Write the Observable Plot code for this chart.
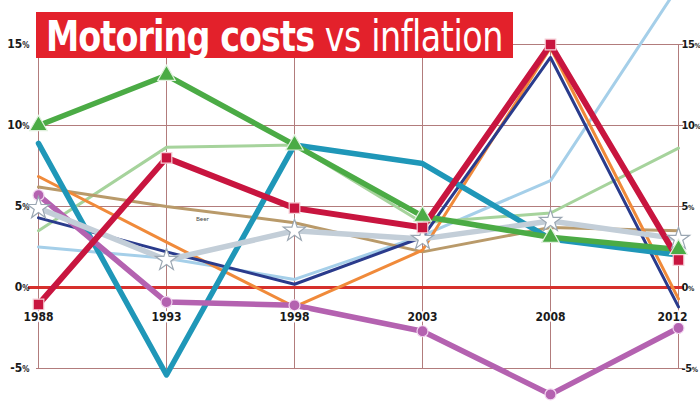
<!DOCTYPE html>
<html><head><meta charset="utf-8">
<script src="https://cdn.jsdelivr.net/npm/d3@7"></script>
<script src="https://cdn.jsdelivr.net/npm/@observablehq/plot@0.6"></script>
<style>
body{margin:0;background:#fff;}
#wrap{position:relative;width:700px;height:420px;overflow:hidden;background:#fff;}
#title{position:absolute;left:36px;top:12px;z-index:2;display:block;pointer-events:none;}
#chart{position:absolute;left:0;top:0;}
</style></head>
<body>
<div id="wrap">
  <div id="chart"></div>
  <svg id="title" width="664" height="46" viewBox="0 0 664 46">
    <rect x="0" y="0" width="477" height="46" fill="#e3212b"></rect>
    <g id="tg" transform="translate(10,38.5)" fill="#fff" font-family="'DejaVu Sans Condensed','DejaVu Sans',sans-serif" font-size="42">
      <text id="t1" x="0" y="0" font-weight="bold" letter-spacing="-1">Motoring costs</text>
      <text id="t2" x="0" y="0" letter-spacing="-0.5">vs inflation</text>
    </g>
  </svg>
</div>
<script>
const years = ["1988","1993","1998","2003","2008","2012"];
const yTicks = [-5, 0, 5, 10, 15];

const lightBlue  = [2.5, 1.8, 0.5, 3.2, 6.6, 18.6];
const lightGreen = [3.5, 8.65, 8.8, 4.0, 4.6, 8.6];
const tanSeries  = [6.2, 5.0, 4.0, 2.2, 3.7, 3.5];
const orange     = [6.85, 2.8, -1.2, 2.3, 14.8, -0.7];
const navy       = [4.3, 2.2, 0.2, 3.1, 14.2, -1.2];
const teal       = [8.9, -5.4, 8.8, 7.65, 3.0, 2.0];
const purple     = [5.7, -0.9, -1.1, -2.7, -6.6, -2.5];
const silver     = [4.9, 1.7, 3.5, 3.0, 4.1, 3.0];
const green      = [10.0, 13.1, 8.8, 4.4, 3.1, 2.35];
const crimson    = [-1.05, 8.0, 4.9, 3.7, 15.0, 1.7];

const beerLabel = ["Beer"];

// styles (kept separate from the data)
const seriesList = [
  {v: lightBlue,  color: "#a5cfe9", w: 3},
  {v: lightGreen, color: "#a6d39c", w: 3},
  {v: tanSeries,  color: "#b99a6a", w: 3},
  {v: orange,     color: "#f08a3a", w: 3},
  {v: navy,       color: "#2a3b8c", w: 3},
  {v: teal,       color: "#1f97b8", w: 5.5},
  {v: purple,     color: "#b462b0", w: 5.5, sym: "circle", r: 5.5, mfill: "#b462b0", mstroke: "#f3d6f0"},
  {v: silver,     color: "#c3ced8", w: 5.5, sym: "star", r: 7, mfill: "#ffffff", mstroke: "#9aa6b2"},
  {v: green,      color: "#4bab45", w: 5.5, sym: "triangle", r: 6.5, mfill: "#4bab45", mstroke: "#dff0dc"},
  {v: crimson,    color: "#c8153f", w: 6,   sym: "square", r: 6, mfill: "#c8153f", mstroke: "#f6cfd7"}
];

const toRows = arr => years.map((y, i) => ({year: y, value: arr[i]}));
const grid = "#b27c7c";
const font = '"DejaVu Sans Condensed","DejaVu Sans",sans-serif';

const marks = [
  Plot.ruleY([-5, 5, 10, 15], {y: d => d, stroke: grid, strokeWidth: 1, insetRight: -3}),
  Plot.ruleX(years, {x: d => d, y1: -5, y2: 15, stroke: grid, strokeWidth: 1}),
  Plot.ruleY([0], {y: d => d, stroke: "#d6302c", strokeWidth: 3, insetLeft: -8, insetRight: -4}),
  Plot.axisY({anchor: "left", ticks: yTicks, tickSize: 0, tickPadding: 7, tickFormat: d => d + "%",
    label: null, fontWeight: "bold", fontSize: 12, fill: "#1a1a1a", fontFamily: font}),
  Plot.axisY({anchor: "right", ticks: yTicks, tickSize: 0, tickPadding: 1, tickFormat: d => d + "%",
    label: null, fontWeight: "bold", fontSize: 11, fill: "#1a1a1a", fontFamily: font})
];
for (const s of seriesList) {
  marks.push(Plot.line(toRows(s.v), {x: "year", y: "value", stroke: s.color, strokeWidth: s.w,
    strokeLinejoin: "round", strokeLinecap: "round"}));
}
for (const s of seriesList) {
  if (s.sym) marks.push(Plot.dot(toRows(s.v), {x: "year", y: "value", symbol: s.sym, r: s.r,
    fill: s.mfill, stroke: s.mstroke, strokeWidth: 1.2}));
}
const labelOpts = {y: 0, dy: 30, text: d => d, fontWeight: "bold", fontSize: 12,
  fill: "#1a1a1a", stroke: "white", strokeWidth: 4, fontFamily: font};
marks.push(Plot.text(years.slice(0, -1), {x: d => d, ...labelOpts}));
marks.push(Plot.text(years.slice(-1), {x: d => d, dx: -6, ...labelOpts}));
marks.push(Plot.text(beerLabel, {x: () => "1993", y: () => 4.2, dx: 36, text: d => d, fontSize: 6, fill: "#444"}));

const chart = Plot.plot({
  width: 700, height: 420,
  marginLeft: 36, marginRight: 20, marginTop: 44, marginBottom: 52,
  x: {type: "point", domain: years, padding: 0, axis: null},
  y: {domain: [-5, 15], axis: null},
  style: {background: "transparent", overflow: "visible"},
  marks
});
document.getElementById("chart").appendChild(chart);
const axes = chart.querySelectorAll('g[aria-label="y-axis tick label"]');
axes.forEach((g, gi) => {
  g.querySelectorAll("text").forEach(t => {
    const s = t.textContent;
    if (s.endsWith("%")) t.innerHTML = s.slice(0, -1) + `<tspan font-size="${gi === 0 ? 8 : 7}">%</tspan>`;
    if (gi === 1) t.setAttribute("letter-spacing", "-0.4");
  });
});
// fit the title: place the two parts, then scale the group horizontally to 457px
const t1 = document.getElementById("t1"), t2 = document.getElementById("t2");
const w1 = t1.getComputedTextLength();
const gap = 12;
t2.setAttribute("x", w1 + gap);
const total = w1 + gap + t2.getComputedTextLength();
document.getElementById("tg").setAttribute("transform", `translate(10,38.5) scale(${457 / total},1)`);
</script>
</body></html>
